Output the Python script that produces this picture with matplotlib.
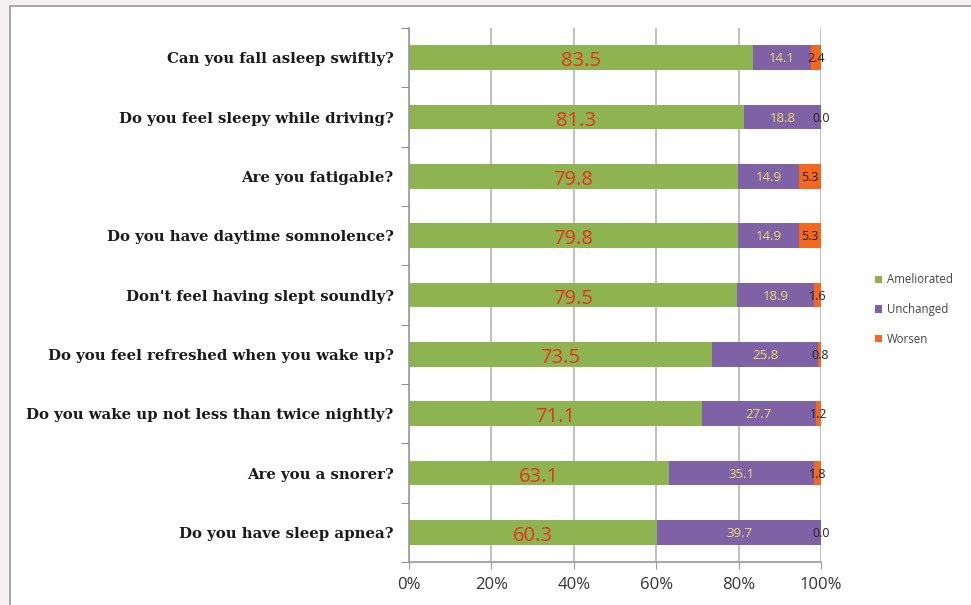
import matplotlib
matplotlib.use("Agg")
import matplotlib.pyplot as plt
from matplotlib.patches import Rectangle
from matplotlib.ticker import FixedLocator, PercentFormatter
import numpy as np

questions = [
    "Can you fall asleep swiftly?",
    "Do you feel sleepy while driving?",
    "Are you fatigable?",
    "Do you have daytime somnolence?",
    "Don't feel having slept soundly?",
    "Do you feel refreshed when you wake up?",
    "Do you wake up not less than twice nightly?",
    "Are you a snorer?",
    "Do you have sleep apnea?",
]
ameliorated = [83.5, 81.3, 79.8, 79.8, 79.5, 73.5, 71.1, 63.1, 60.3]
unchanged = [14.1, 18.8, 14.9, 14.9, 18.9, 25.8, 27.7, 35.1, 39.7]
worsen = [2.4, 0.0, 5.3, 5.3, 1.6, 0.8, 1.2, 1.8, 0.0]
series_names = ["Ameliorated", "Unchanged", "Worsen"]
xticks = [0, 20, 40, 60, 80, 100]

c_green = "#8db450"
c_purple = "#7f62a6"
c_orange = "#f5661e"

fig = plt.figure(figsize=(9.71, 6.05), dpi=100, facecolor="#f3f1f1")
# white panel with grey border
fig.patches.append(Rectangle((10 / 971, -0.01), 1.0, (605 - 6) / 605 + 0.01,
                             transform=fig.transFigure, facecolor="white",
                             edgecolor="#9a9a9a", linewidth=1.2, zorder=-10))

ax = fig.add_axes([409 / 971, 43 / 605, 412 / 971, (562 - 28) / 605])
ax.set_facecolor("none")
ax.set_zorder(5)

n = len(questions)
y = np.arange(n)
h = 0.42
a = np.array(ameliorated)
u = np.array(unchanged)
w = np.array(worsen)

ax.barh(y, a, height=h, color=c_green, label=series_names[0], zorder=2)
ax.barh(y, u, left=a, height=h, color=c_purple, label=series_names[1], zorder=2)
ax.barh(y, w, left=a + u, height=h, color=c_orange, label=series_names[2], zorder=2)

for i in range(n):
    ax.text(a[i] / 2, y[i] + 0.06, f"{a[i]:.1f}", ha="center", va="center",
            color="#e8321e", fontsize=14.5, family="Open Sans", zorder=3)
    ax.text(a[i] + u[i] / 2, y[i] + 0.02, f"{u[i]:.1f}", ha="center", va="center",
            color="#ecdf6a", fontsize=9.5, family="Open Sans", zorder=3)
    ax.text(a[i] + u[i] + w[i] / 2, y[i] + 0.02, f"{w[i]:.1f}", ha="center", va="center",
            color="#222222", fontsize=9, family="Open Sans", zorder=3)

ax.set_xlim(0, 100)
ax.set_ylim(n - 0.5, -0.5)
ax.xaxis.set_major_locator(FixedLocator(xticks))
ax.xaxis.set_major_formatter(PercentFormatter(decimals=0))
ax.grid(axis="x", color="#b5b5b5", linewidth=1.2, zorder=0)

ax.set_yticks(y)
ax.set_yticklabels(questions, family="DejaVu Serif", fontweight="bold",
                   fontsize=10.7, color="#1a1a1a")
ax.set_yticks(np.arange(-0.5, n, 1.0), minor=True)
ax.tick_params(axis="y", which="major", length=0, pad=11)
ax.tick_params(axis="y", which="minor", length=6, direction="out", color="#777777")
ax.tick_params(axis="x", which="major", length=5, direction="out", color="#999999",
               labelsize=12, labelcolor="#333333", pad=6)
for lab in ax.get_xticklabels():
    lab.set_family("Open Sans")

for s in ["top", "right"]:
    ax.spines[s].set_visible(False)
for s in ["left", "bottom"]:
    ax.spines[s].set_color("#999999")
    ax.spines[s].set_linewidth(1.2)

leg = fig.legend(loc="upper left", bbox_to_anchor=(865 / 971, 1 - 263 / 605),
                 frameon=False, handlelength=0.6, handleheight=0.6,
                 handletextpad=0.4, labelspacing=1.45,
                 prop={"family": "Open Sans", "size": 8.3})
for t in leg.get_texts():
    t.set_color("#444444")

fig.savefig("out.png", dpi=100, facecolor=fig.get_facecolor())
